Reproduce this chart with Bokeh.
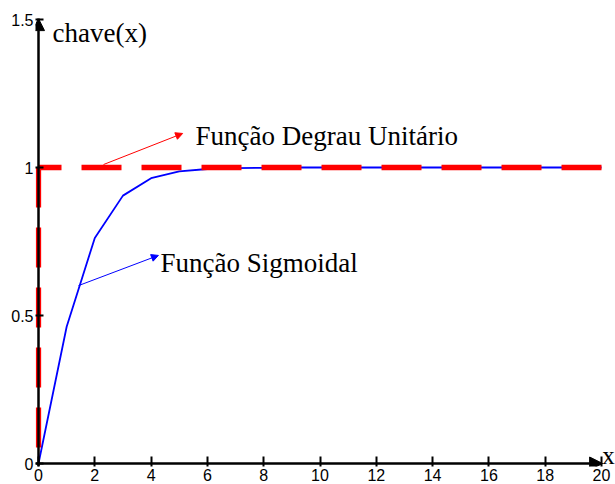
from bokeh.plotting import figure
from bokeh.models import Range1d, Label, Arrow, NormalHead, FixedTicker
from bokeh.embed import file_html
from bokeh.resources import INLINE

# ---- data ----
x_vals = [0, 1, 2, 3, 4, 5, 6, 7, 8, 9, 10, 11, 12, 13, 14, 15, 16, 17, 18, 19, 20]
sigmoid = [0.0, 0.462, 0.762, 0.905, 0.964, 0.987, 0.995, 0.998, 0.999, 1.0, 1.0,
           1.0, 1.0, 1.0, 1.0, 1.0, 1.0, 1.0, 1.0, 1.0, 1.0]
step_x = [0, 0, 20]
step_y = [0, 1, 1]
x_ticks = [0, 2, 4, 6, 8, 10, 12, 14, 16, 18, 20]
y_ticks = [0, 0.5, 1, 1.5]
y_tick_labels = {0: "0", 0.5: "0.5", 1: "1", 1.5: "1.5"}
label_step = "Função Degrau Unitário"
label_sig = "Função Sigmoidal"
label_y = "chave(x)"
label_x = "x"

SERIF = "Liberation Serif"
SANS = "Liberation Sans"

p = figure(width=615, height=484,
           x_range=Range1d(-0.1066, 20.497), y_range=Range1d(-0.0101, 1.5),
           output_backend="svg", toolbar_location=None,
           min_border_left=35, min_border_right=0,
           min_border_top=19, min_border_bottom=18)
p.outline_line_color = None
p.grid.visible = False
p.background_fill_color = "white"

for ax in (p.xaxis[0], p.yaxis[0]):
    ax.axis_line_color = None
    ax.major_tick_out = 0
    ax.minor_tick_in = 0
    ax.minor_tick_out = 0
    ax.major_tick_line_width = 2
    ax.major_tick_line_color = "black"
    ax.major_label_text_font = SANS
    ax.major_label_text_font_size = "16px"
    ax.major_label_text_color = "black"

p.xaxis.ticker = FixedTicker(ticks=x_ticks)
p.xaxis.major_tick_in = 10
p.xaxis.major_label_standoff = 2
p.yaxis.ticker = FixedTicker(ticks=y_ticks)
p.yaxis.major_tick_in = 8
p.yaxis.major_label_standoff = 2
p.yaxis.major_label_overrides = y_tick_labels

# axis lines through the origin, with arrowheads
p.add_layout(Arrow(x_start=0, y_start=-0.0101, x_end=0, y_end=1.503,
                   line_color="black", line_width=2.5,
                   end=NormalHead(size=12, fill_color="black", line_color="black", line_width=1)))
p.add_layout(Arrow(x_start=-0.1066, y_start=0, x_end=20.04, y_end=0,
                   line_color="black", line_width=2.5,
                   end=NormalHead(size=13, fill_color="black", line_color="black", line_width=1)))

# sigmoid curve
p.line(x_vals, sigmoid, line_color="#0000FF", line_width=1.8)

# unit step (dashed) - horizontal drawn from right end, vertical from top
p.line([step_x[2], step_x[1]], [step_y[2], step_y[1]], line_color="#FF0000",
       line_width=5.3, line_dash="40 20", line_cap="butt")
p.line([step_x[1], step_x[0]], [step_y[1], step_y[0]], line_color="#FF0000",
       line_width=5.3, line_dash="40 20", line_cap="butt")

# annotation arrows
p.add_layout(Arrow(x_start=2.31, y_start=1.01, x_end=5.12, y_end=1.115,
                   line_color="#FF0000", line_width=1,
                   end=NormalHead(size=7, fill_color="#FF0000", line_color="#FF0000", line_width=1)))
p.add_layout(Arrow(x_start=1.42, y_start=0.601, x_end=4.26, y_end=0.703,
                   line_color="#0000FF", line_width=1,
                   end=NormalHead(size=7, fill_color="#0000FF", line_color="#0000FF", line_width=1)))

# texts
for txt, xx, yy in ((label_step, 5.58, 1.105), (label_sig, 4.33, 0.676),
                    (label_y, 0.497, 1.453)):
    p.add_layout(Label(x=xx, y=yy, text=txt, text_font=SERIF, text_font_size="27px",
                       text_color="black", text_baseline="alphabetic", text_align="left"))
p.add_layout(Label(x=20.03, y=0.026, text=label_x, text_font=SERIF, text_font_size="25px",
                   text_color="black", text_baseline="alphabetic", text_align="left"))

open("out.html", "w").write(file_html(p, INLINE))
